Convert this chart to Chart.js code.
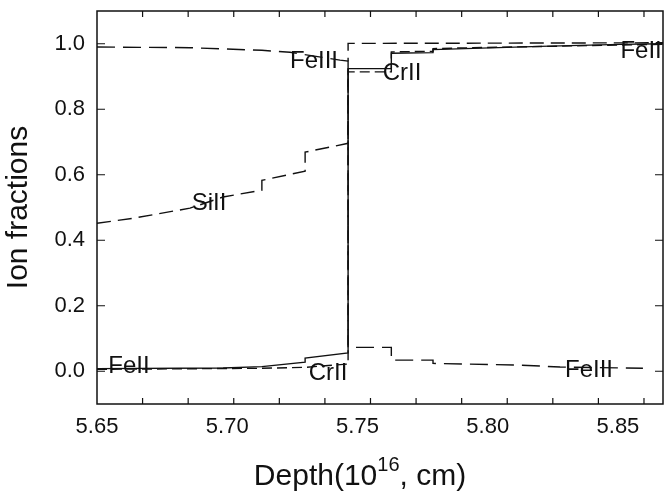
<!DOCTYPE html>
<html>
<head>
<meta charset="utf-8">
<script src="https://cdn.jsdelivr.net/npm/chart.js@4.4.1/dist/chart.umd.min.js"></script>
<style>
  body { margin: 0; background: #fff; }
  canvas { display: block; }
</style>
</head>
<body>
<canvas id="ionChart" width="664" height="491"></canvas>
<script>
// ion fraction profiles, [depth (1e16 cm), fraction]
const feII = [[5.65, 0.008], [5.6984, 0.010], [5.7133, 0.014], [5.7299, 0.028], [5.7299, 0.040],
  [5.7464, 0.056], [5.7464, 0.924], [5.763, 0.924], [5.763, 0.971], [5.779, 0.973], [5.779, 0.982],
  [5.7944, 0.986], [5.8201, 0.992], [5.8508, 0.998], [5.8673, 1.000]];
const feIII = [[5.65, 0.990], [5.6857, 0.988], [5.7133, 0.980], [5.7241, 0.974], [5.7433, 0.950],
  [5.7464, 0.947], [5.7464, 0.073], [5.763, 0.073], [5.763, 0.034], [5.779, 0.034], [5.779, 0.024],
  [5.8112, 0.019], [5.8278, 0.013], [5.8596, 0.009]];
const crII = [[5.65, 0.006], [5.7133, 0.009], [5.7299, 0.012], [5.7464, 0.022], [5.7464, 0.914],
  [5.763, 0.914], [5.763, 0.975], [5.779, 0.977], [5.779, 0.985], [5.7944, 0.988], [5.8508, 0.996],
  [5.8673, 0.998]];
const siII = [[5.65, 0.452], [5.6638, 0.467], [5.6857, 0.498], [5.6984, 0.532], [5.7133, 0.553],
  [5.7133, 0.583], [5.7299, 0.611], [5.7299, 0.669], [5.7464, 0.696], [5.7464, 1.001], [5.8673, 1.003]];

const xTicks = [5.65, 5.70, 5.75, 5.80, 5.85];
const yTicks = [0.0, 0.2, 0.4, 0.6, 0.8, 1.0];

// curve labels: [text, depth, fraction]
const curveLabels = [
  ['FeIII', 5.7333, 0.946], ['CrII', 5.7671, 0.910], ['FeII', 5.8589, 0.977], ['SiII', 5.693, 0.513],
  ['FeII', 5.6623, 0.016], ['CrII', 5.7387, -0.005], ['FeIII', 5.8389, 0.004]
];

const FONT = '"Liberation Sans", Arial, Helvetica, sans-serif';
const xMinorStep = 0.0175;

const toPts = arr => arr.map(([x, y]) => ({ x, y }));

function lineSet(label, arr, dash) {
  return {
    label: label,
    data: toPts(arr),
    borderColor: '#111',
    borderWidth: 1.4,
    borderDash: dash,
    pointRadius: 0,
    tension: 0,
    fill: false
  };
}

// frame, inward tick marks, x title, curve labels
const framePlugin = {
  id: 'frame',
  afterDraw(chart) {
    const ctx = chart.ctx;
    const a = chart.chartArea;
    const xs = chart.scales.x, ys = chart.scales.y;
    ctx.save();
    ctx.strokeStyle = '#111';
    ctx.lineWidth = 1.5;
    ctx.strokeRect(a.left, a.top, a.right - a.left, a.bottom - a.top);

    ctx.lineWidth = 1.2;
    ctx.beginPath();
    for (let v = xs.min + xMinorStep; v < xs.max; v += xMinorStep) {
      const px = xs.getPixelForValue(v);
      ctx.moveTo(px, a.bottom); ctx.lineTo(px, a.bottom - 6);
      ctx.moveTo(px, a.top); ctx.lineTo(px, a.top + 6);
    }
    yTicks.forEach(v => {
      const py = ys.getPixelForValue(v);
      ctx.moveTo(a.left, py); ctx.lineTo(a.left + 8, py);
      ctx.moveTo(a.right, py); ctx.lineTo(a.right - 8, py);
    });
    ctx.stroke();

    ctx.fillStyle = '#111';
    ctx.textAlign = 'center';
    ctx.textBaseline = 'middle';
    ctx.font = '24px ' + FONT;
    curveLabels.forEach(([t, x, y]) => {
      ctx.fillText(t, xs.getPixelForValue(x), ys.getPixelForValue(y));
    });

    // x axis title with superscript
    const main1 = 'Depth(10', sup = '16', main2 = ', cm)';
    ctx.textAlign = 'left';
    ctx.textBaseline = 'alphabetic';
    ctx.font = '30px ' + FONT;
    const w1 = ctx.measureText(main1).width, w3 = ctx.measureText(main2).width;
    ctx.font = '20px ' + FONT;
    const w2 = ctx.measureText(sup).width;
    let x0 = 360 - (w1 + w2 + w3) / 2;
    const base = 485;
    ctx.font = '30px ' + FONT;
    ctx.fillText(main1, x0, base);
    ctx.font = '20px ' + FONT;
    ctx.fillText(sup, x0 + w1, base - 14);
    ctx.font = '30px ' + FONT;
    ctx.fillText(main2, x0 + w1 + w2, base);
    ctx.restore();
  }
};

new Chart(document.getElementById('ionChart'), {
  type: 'line',
  data: {
    datasets: [
      lineSet('FeII', feII, []),
      lineSet('FeIII', feIII, [18, 8]),
      lineSet('CrII', crII, [10, 5]),
      lineSet('SiII', siII, [14, 7])
    ]
  },
  options: {
    responsive: false,
    animation: false,
    devicePixelRatio: 1,
    layout: { padding: { top: 11, right: 1, left: 0, bottom: 0 } },
    plugins: { legend: { display: false }, tooltip: { enabled: false } },
    scales: {
      x: {
        type: 'linear',
        min: 5.65,
        max: 5.8673,
        grid: { display: false, drawTicks: false },
        border: { display: false },
        afterBuildTicks: s => { s.ticks = xTicks.map(v => ({ value: v })); },
        afterFit: s => { s.height = 87; s.paddingLeft = 0; s.paddingRight = 0; },
        ticks: {
          padding: 10,
          color: '#111',
          font: { family: FONT, size: 22 },
          callback: v => Number(v).toFixed(2)
        }
      },
      y: {
        min: -0.1,
        max: 1.1,
        grid: { display: false, drawTicks: false },
        border: { display: false },
        afterBuildTicks: s => { s.ticks = yTicks.map(v => ({ value: v })); },
        afterFit: s => { s.width = 97; s.paddingTop = 0; s.paddingBottom = 0; },
        title: {
          display: true,
          text: 'Ion fractions',
          color: '#111',
          font: { family: FONT, size: 30 },
          padding: { top: 1, bottom: 0 }
        },
        ticks: {
          padding: 12,
          color: '#111',
          font: { family: FONT, size: 22 },
          callback: v => Number(v).toFixed(1)
        }
      }
    }
  },
  plugins: [framePlugin]
});
</script>
</body>
</html>
